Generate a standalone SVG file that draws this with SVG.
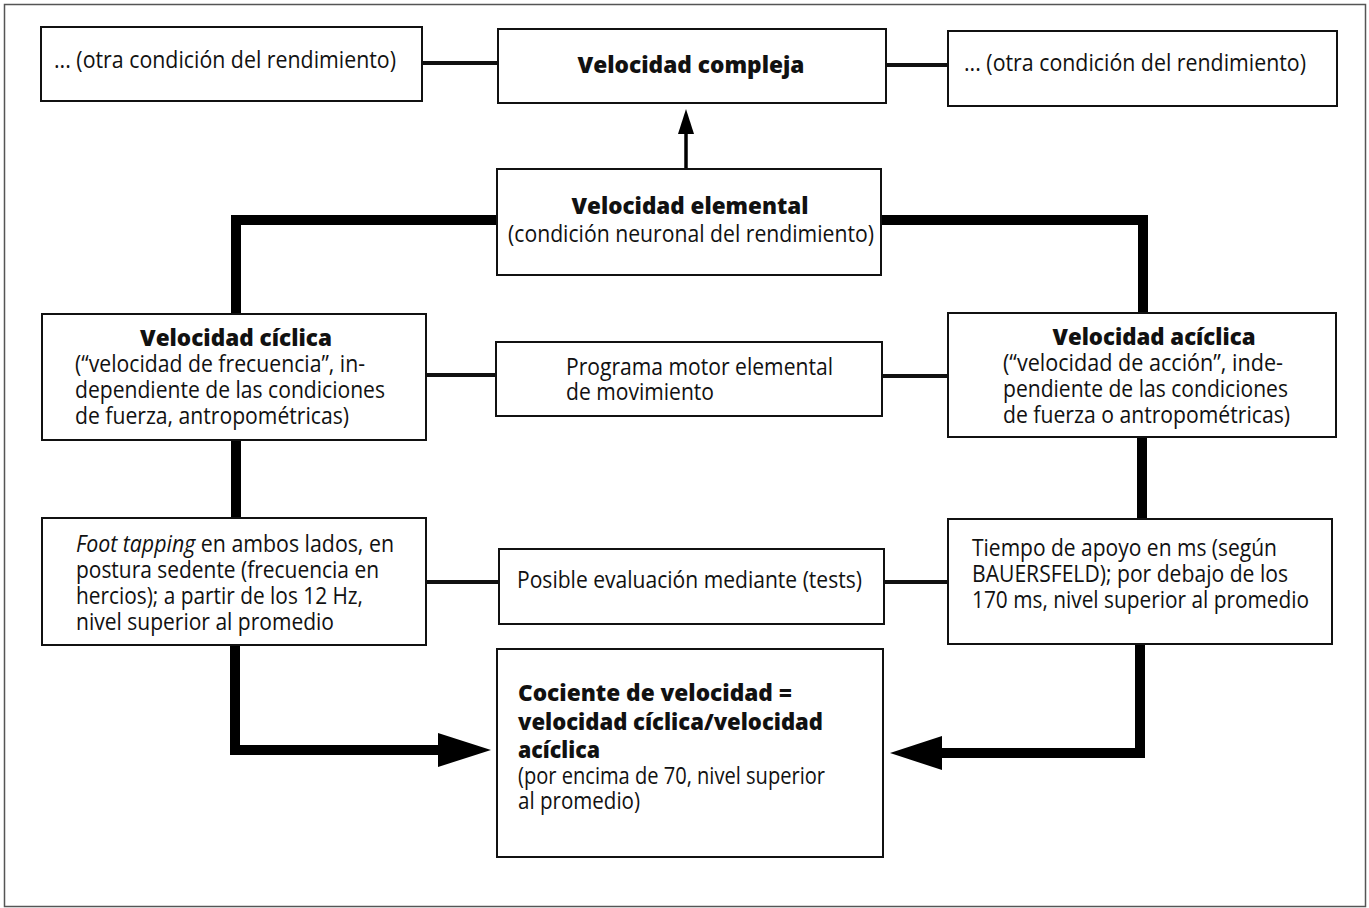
<svg xmlns="http://www.w3.org/2000/svg" width="1369" height="908" viewBox="0 0 1369 908">
  <style>
    .box { fill: #fff; stroke: #111; stroke-width: 2; }
    .t { font-family: "Open Sans", "Noto Sans", "Liberation Sans", sans-serif; font-size: 23px; fill: #111; }
    .b { font-weight: 800; font-size: 23px; }
    .thin { fill: none; stroke: #111; stroke-width: 4; }
    .thick { fill: none; stroke: #000; stroke-width: 10; stroke-linejoin: miter; }
    .head { fill: #000; }
  </style>

  <rect x="0" y="0" width="1369" height="908" fill="#fff"/>
  <!-- outer frame -->
  <rect x="4.5" y="4.5" width="1361" height="902" fill="none" stroke="#555" stroke-width="1.5"/>

  <!-- connectors -->
  <g id="connectors">
    <path class="thin" d="M422 63 H498"/>
    <path class="thin" d="M886 65 H948"/>
    <path class="thin" d="M426 375 H496"/>
    <path class="thin" d="M882 376 H948"/>
    <path class="thin" d="M426 582 H499"/>
    <path class="thin" d="M884 582 H948"/>

    <!-- elemental -> compleja -->
    <path d="M686 169 V131" fill="none" stroke="#000" stroke-width="3.5"/>
    <polygon class="head" points="678,134 686,109 694,134"/>

    <path class="thick" d="M497 220 H236 V314"/>
    <path class="thick" d="M881 220 H1143 V313"/>
    <path class="thick" d="M236 440 V518"/>
    <path class="thick" d="M1142 437 V519"/>

    <path class="thick" d="M235 645 V750 H442"/>
    <polygon class="head" points="438,733 491,750 438,767"/>
    <path class="thick" d="M1140 644 V753 H938"/>
    <polygon class="head" points="942,736 890,753 942,770"/>
  </g>

  <g id="otra-izq">
    <rect class="box" x="41" y="27" width="381" height="74"/>
    <text class="t" x="54" y="68" textLength="342" lengthAdjust="spacingAndGlyphs">... (otra condición del rendimiento)</text>
  </g>

  <g id="velocidad-compleja">
    <rect class="box" x="498" y="29" width="388" height="74"/>
    <text class="t b" x="691" y="73" text-anchor="middle" textLength="227" lengthAdjust="spacingAndGlyphs">Velocidad compleja</text>
  </g>

  <g id="otra-der">
    <rect class="box" x="948" y="31" width="389" height="75"/>
    <text class="t" x="964" y="71" textLength="342" lengthAdjust="spacingAndGlyphs">... (otra condición del rendimiento)</text>
  </g>

  <g id="velocidad-elemental">
    <rect class="box" x="497" y="169" width="384" height="106"/>
    <text class="t b" x="690" y="214" text-anchor="middle" textLength="237" lengthAdjust="spacingAndGlyphs">Velocidad elemental</text>
    <text class="t" x="691" y="242" text-anchor="middle" textLength="366" lengthAdjust="spacingAndGlyphs">(condición neuronal del rendimiento)</text>
  </g>

  <g id="velocidad-ciclica">
    <rect class="box" x="42" y="314" width="384" height="126"/>
    <text class="t b" x="236" y="346" text-anchor="middle" textLength="192" lengthAdjust="spacingAndGlyphs">Velocidad cíclica</text>
    <text class="t" x="75" y="372" textLength="290" lengthAdjust="spacingAndGlyphs">(“velocidad de frecuencia”, in-</text>
    <text class="t" x="75" y="398" textLength="310" lengthAdjust="spacingAndGlyphs">dependiente de las condiciones</text>
    <text class="t" x="75" y="424" textLength="274" lengthAdjust="spacingAndGlyphs">de fuerza, antropométricas)</text>
  </g>

  <g id="programa-motor">
    <rect class="box" x="496" y="342" width="386" height="74"/>
    <text class="t" x="566" y="375" textLength="267" lengthAdjust="spacingAndGlyphs">Programa motor elemental</text>
    <text class="t" x="566" y="400" textLength="148" lengthAdjust="spacingAndGlyphs">de movimiento</text>
  </g>

  <g id="velocidad-aciclica">
    <rect class="box" x="948" y="313" width="388" height="124"/>
    <text class="t b" x="1154" y="345" text-anchor="middle" textLength="203" lengthAdjust="spacingAndGlyphs">Velocidad acíclica</text>
    <text class="t" x="1003" y="371" textLength="280" lengthAdjust="spacingAndGlyphs">(“velocidad de acción”, inde-</text>
    <text class="t" x="1003" y="397" textLength="285" lengthAdjust="spacingAndGlyphs">pendiente de las condiciones</text>
    <text class="t" x="1003" y="423" textLength="287" lengthAdjust="spacingAndGlyphs">de fuerza o antropométricas)</text>
  </g>

  <g id="foot-tapping">
    <rect class="box" x="42" y="518" width="384" height="127"/>
    <text class="t" x="76" y="552" textLength="318" lengthAdjust="spacingAndGlyphs"><tspan font-style="italic">Foot tapping</tspan> en ambos lados, en</text>
    <text class="t" x="76" y="578" textLength="303" lengthAdjust="spacingAndGlyphs">postura sedente (frecuencia en</text>
    <text class="t" x="76" y="604" textLength="287" lengthAdjust="spacingAndGlyphs">hercios); a partir de los 12 Hz,</text>
    <text class="t" x="76" y="630" textLength="258" lengthAdjust="spacingAndGlyphs">nivel superior al promedio</text>
  </g>

  <g id="evaluacion">
    <rect class="box" x="499" y="549" width="385" height="75"/>
    <text class="t" x="517" y="588" textLength="345" lengthAdjust="spacingAndGlyphs">Posible evaluación mediante (tests)</text>
  </g>

  <g id="tiempo-apoyo">
    <rect class="box" x="948" y="519" width="384" height="125"/>
    <text class="t" x="972" y="556" textLength="305" lengthAdjust="spacingAndGlyphs">Tiempo de apoyo en ms (según</text>
    <text class="t" x="972" y="582" textLength="316" lengthAdjust="spacingAndGlyphs">BAUERSFELD); por debajo de los</text>
    <text class="t" x="972" y="608" textLength="337" lengthAdjust="spacingAndGlyphs">170 ms, nivel superior al promedio</text>
  </g>

  <g id="cociente">
    <rect class="box" x="497" y="649" width="386" height="208"/>
    <text class="t b" x="518" y="701" textLength="274" lengthAdjust="spacingAndGlyphs">Cociente de velocidad =</text>
    <text class="t b" x="518" y="730" textLength="305" lengthAdjust="spacingAndGlyphs">velocidad cíclica/velocidad</text>
    <text class="t b" x="518" y="758" textLength="82" lengthAdjust="spacingAndGlyphs">acíclica</text>
    <text class="t" x="518" y="784" textLength="307" lengthAdjust="spacingAndGlyphs">(por encima de 70, nivel superior</text>
    <text class="t" x="518" y="809" textLength="122" lengthAdjust="spacingAndGlyphs">al promedio)</text>
  </g>
</svg>
